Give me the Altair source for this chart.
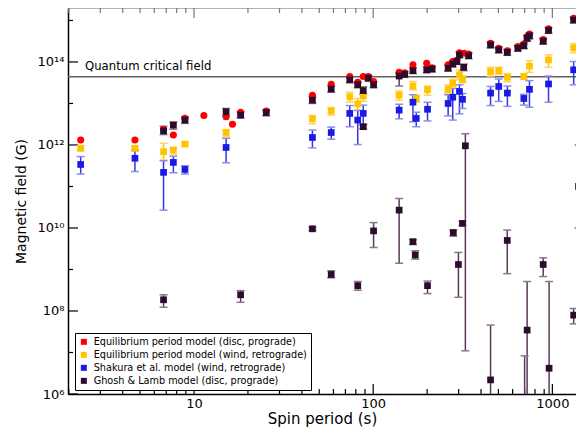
import altair as alt
import pandas as pd

F = "DejaVu Sans"

# ---- data (periods in s, fields as log10 B[G]) ----
red_period = [2.33, 4.68, 6.76, 7.67, 8.9, 11.35, 15.1, 16.4, 18.2, 25.3, 45.8, 58.3, 74, 82, 88, 94, 100.5,
              139.6, 150, 166.7, 199, 213, 262, 278, 293, 303, 322, 341, 452, 502, 561, 642, 693, 723, 745,
              889, 952, 1315]
red_logB = [12.12, 12.12, 12.38, 12.24, 12.64, 12.71, 12.68, 12.50, 12.79, 12.82, 13.20, 13.46, 13.65, 13.51,
            13.65, 13.65, 13.53, 13.75, 13.74, 13.93, 13.97, 13.86, 13.93, 14.01, 14.04, 14.22, 14.21, 14.19,
            14.45, 14.33, 14.27, 14.37, 14.43, 14.61, 14.67, 14.54, 14.80, 15.05]

yellow_period = [2.33, 4.68, 6.76, 7.67, 8.9, 15.1, 45.8, 58.3, 74, 82, 88, 139.6, 166.7, 174, 201, 262, 278,
                 303, 315, 452, 502, 561, 693, 745, 952, 1315]
yellow_logB = [11.92, 11.92, 11.84, 11.88, 12.02, 12.30, 12.63, 12.82, 13.16, 12.99, 13.18, 13.20, 13.42, 13.12,
               13.33, 13.34, 13.49, 13.69, 13.58, 13.77, 13.79, 13.63, 13.65, 13.90, 14.05, 14.34]
yellow_lo = [11.86, 11.85, 11.64, 11.78, 11.98, 12.20, 12.51, 12.72, 13.03, 12.84, 13.05, 13.08, 13.33, 13.03,
             13.20, 13.25, 13.40, 13.57, 13.50, 13.66, 13.70, 13.52, 13.58, 13.75, 13.87, 14.22]
yellow_hi = [11.98, 11.98, 12.04, 11.93, 12.06, 12.37, 12.71, 12.90, 13.27, 13.12, 13.27, 13.30, 13.53, 13.20,
             13.42, 13.45, 13.58, 13.81, 13.66, 13.87, 13.87, 13.72, 13.72, 14.03, 14.17, 14.44]

blue_period = yellow_period
blue_logB = [11.53, 11.68, 11.34, 11.58, 11.41, 11.94, 12.18, 12.30, 12.76, 12.60, 12.76, 12.84, 13.03, 12.64,
             12.86, 13.00, 13.15, 13.29, 13.10, 13.25, 13.41, 13.25, 13.12, 13.34, 13.47, 13.81]
blue_lo = [11.30, 11.36, 10.43, 11.33, 11.30, 11.57, 11.93, 12.14, 12.44, 12.01, 12.48, 12.63, 12.56, 12.44,
           12.58, 12.70, 12.60, 12.75, 12.88, 12.95, 13.05, 12.93, 12.96, 12.91, 13.03, 13.45]
blue_hi = [11.72, 11.88, 11.62, 11.73, 11.50, 12.16, 12.36, 12.43, 12.95, 12.83, 12.96, 12.98, 13.21, 12.79,
           13.03, 13.21, 13.36, 13.45, 13.24, 13.41, 13.59, 13.42, 13.22, 13.55, 13.66, 14.01]

gl_period = [6.76, 6.76, 7.67, 8.9, 15.1, 18.2, 18.2, 25.3, 45.8, 45.8, 58.3, 58.3, 74, 82, 82, 88, 88, 94,
             100.5, 100.5, 139.6, 139.6, 150, 166.7, 166.7, 171.7, 199, 201, 213, 262, 278, 280, 293, 299, 303,
             315, 320, 327, 341, 452, 452, 502, 560, 560, 642, 693, 700, 723, 723, 745, 889, 889, 952, 959,
             1315, 1315, 1400]
gl_logB = [12.34, 8.27, 12.48, 12.60, 12.80, 12.72, 8.39, 12.78, 13.08, 9.98, 13.35, 8.88, 13.57, 13.45, 8.61,
           13.31, 12.44, 13.61, 13.45, 9.93, 13.66, 10.43, 13.70, 13.79, 9.67, 9.35, 13.81, 8.61, 13.83, 13.85,
           13.95, 9.89, 14.01, 9.12, 14.17, 10.11, 13.87, 11.98, 14.15, 14.41, 6.34, 14.29, 14.23, 9.70, 14.33,
           14.39, 5.5, 14.57, 7.54, 14.63, 14.50, 9.12, 14.76, 6.62, 15.01, 7.90, 11.0]
gl_lo = [12.25, 8.09, 12.38, 12.52, 12.70, 12.65, 8.21, 12.70, 13.00, 9.94, 13.27, 8.80, 13.50, 13.38, 8.50,
         13.22, 12.39, 13.54, 13.38, 9.53, 13.42, 9.15, 13.63, 13.72, 9.60, 9.25, 13.74, 8.42, 13.76, 13.78,
         13.88, 9.80, 13.94, 8.33, 14.10, 10.06, 13.79, 7.04, 14.08, 14.34, 3.0, 14.22, 14.16, 8.90, 14.26,
         14.32, 3.0, 14.50, 3.0, 14.56, 14.43, 8.83, 14.69, 3.0, 14.94, 7.69, 10.0]
gl_hi = [12.45, 8.39, 12.55, 12.68, 12.88, 12.80, 8.49, 12.85, 13.16, 10.02, 13.42, 8.97, 13.64, 13.52, 8.71,
         13.40, 12.50, 13.68, 13.52, 10.13, 13.74, 10.71, 13.77, 13.86, 9.72, 9.45, 13.88, 8.72, 13.90, 13.92,
         14.02, 9.95, 14.08, 9.41, 14.24, 10.16, 13.95, 12.27, 14.22, 14.48, 7.66, 14.36, 14.30, 9.95, 14.40,
         14.46, 6.92, 14.64, 8.71, 14.70, 14.57, 9.28, 14.83, 8.71, 15.08, 8.06, 12.0]

quantum_logB = [13.643]  # 4.4e13 G
models = ["Equilibrium period model (disc, prograde)", "Equilibrium period model (wind, retrograde)",
          "Shakura et al. model (wind, retrograde)", "Ghosh & Lamb model (disc, prograde)"]
colors = ["#ff0000", "#ffc400", "#1a1ae6", "#2d0b2d"]

y_major = [6, 8, 10, 12, 14]
y_minor = [7, 9, 11, 13, 15]
x_major = [10, 100, 1000]
x_minor = [2, 3, 4, 5, 6, 7, 8, 9, 20, 30, 40, 50, 60, 70, 80, 90, 200, 300, 400, 500, 600, 700, 800, 900]

# ---- chart ----
W, H = 508, 386
xscale = alt.Scale(type="log", domain=[1.98, 1355], nice=False)
yscale = alt.Scale(type="linear", domain=[6, 15.3], nice=False, zero=False)
xaxis = alt.Axis(title="Spin period (s)", values=x_major, format="d", ticks=False, grid=False,
                 domainColor="black", domainWidth=1.5, labelFont=F, labelFontSize=13, labelColor="black",
                 labelPadding=3, titleFont=F, titleFontSize=15, titleFontWeight="normal", titleColor="black",
                 titlePadding=1, labelFlush=False)
yexpr = ("datum.value == 6 ? '10⁶' : datum.value == 8 ? '10⁸' : datum.value == 10 ? '10¹⁰' : "
         "datum.value == 12 ? '10¹²' : '10¹⁴'")
yaxis = alt.Axis(title="Magnetic field (G)", values=y_major, labelExpr=yexpr, ticks=False, grid=False,
                 domainColor="black", domainWidth=1.5, labelFont=F, labelFontSize=13, labelColor="black",
                 labelPadding=4, titleFont=F, titleFontSize=14, titleFontWeight="normal", titleColor="black",
                 titlePadding=9, labelFlush=False)


def X(f):
    return alt.X(f, type="quantitative", scale=xscale, axis=xaxis)


def Y(f):
    return alt.Y(f, type="quantitative", scale=yscale, axis=yaxis)


cscale = alt.Scale(domain=models, range=colors)
legend = alt.Legend(title=None, orient="none", legendX=7, legendY=325, symbolType="square", symbolSize=36,
                    symbolStrokeWidth=0, labelFont=F, labelFontSize=9.7, labelColor="black", labelLimit=400,
                    strokeColor="black", fillColor="white", padding=4, rowPadding=2, labelOffset=5)
C = alt.Color("model:N", scale=cscale, legend=legend)

red_df = pd.DataFrame({"P": red_period, "B": red_logB, "model": models[0]})
yel_df = pd.DataFrame({"P": yellow_period, "B": yellow_logB, "lo": yellow_lo, "hi": yellow_hi, "model": models[1]})
blu_df = pd.DataFrame({"P": blue_period, "B": blue_logB, "lo": blue_lo, "hi": blue_hi, "model": models[2]})
gl_df = pd.DataFrame({"P": gl_period, "B": gl_logB, "lo": gl_lo, "hi": gl_hi, "model": models[3]})

layers = []

# frame top line
layers.append(alt.Chart(pd.DataFrame({"a": [0]})).mark_rule(color="#888888", strokeWidth=1.2).encode(
    x=alt.value(0), x2=alt.value(W), y=alt.value(0)))

# inward ticks
ymaj = pd.DataFrame({"v": y_major})
ymin = pd.DataFrame({"v": y_minor})
xmaj = pd.DataFrame({"v": x_major})
xmin = pd.DataFrame({"v": x_minor})
layers.append(alt.Chart(ymaj).mark_rule(color="black", strokeWidth=1.2).encode(
    y=Y("v"), x=alt.value(0), x2=alt.value(10)))
layers.append(alt.Chart(ymin).mark_rule(color="black", strokeWidth=1.2).encode(
    y=Y("v"), x=alt.value(0), x2=alt.value(5)))
layers.append(alt.Chart(xmaj).mark_rule(color="black", strokeWidth=1.2).encode(
    x=X("v"), y=alt.value(H), y2=alt.value(H - 10)))
layers.append(alt.Chart(xmin).mark_rule(color="black", strokeWidth=1.2).encode(
    x=X("v"), y=alt.value(H), y2=alt.value(H - 5)))
layers.append(alt.Chart(xmaj).mark_rule(color="#777777", strokeWidth=1.2).encode(
    x=X("v"), y=alt.value(0), y2=alt.value(10)))
layers.append(alt.Chart(xmin).mark_rule(color="#777777", strokeWidth=1.2).encode(
    x=X("v"), y=alt.value(0), y2=alt.value(5)))

# quantum critical field
qdf = pd.DataFrame({"B": quantum_logB, "label": ["Quantum critical field"]})
layers.append(alt.Chart(qdf).mark_rule(color="#606060", strokeWidth=1.5).encode(
    y=Y("B"), x=alt.value(0), x2=alt.value(W)))
layers.append(alt.Chart(qdf).mark_text(align="left", baseline="middle", dy=-11, font=F, fontSize=11.7,
                                       color="black").encode(y=Y("B"), x=alt.value(17), text="label:N"))


def errbars(df, line, cap):
    base = alt.Chart(df)
    return [
        base.mark_rule(color=line, strokeWidth=1.5, clip=True).encode(x=X("P"), y=Y("lo"), y2=alt.Y2("hi")),
        base.mark_tick(orient="horizontal", color=cap, size=8, thickness=1.5, opacity=1, clip=True).encode(
            x=X("P"), y=Y("lo")),
        base.mark_tick(orient="horizontal", color=cap, size=8, thickness=1.5, opacity=1, clip=True).encode(
            x=X("P"), y=Y("hi")),
    ]


layers += errbars(yel_df, "#ffc400", "#ffd45e")
layers += errbars(blu_df, "#3636e0", "#8c8cec")
layers += errbars(gl_df, "#5a3a5a", "#8e748e")

layers.append(alt.Chart(red_df).mark_point(shape="circle", filled=True, size=50, opacity=1, clip=True).encode(
    x=X("P"), y=Y("B"), color=C))
layers.append(alt.Chart(yel_df).mark_point(shape="square", filled=True, size=45, opacity=1, clip=True).encode(
    x=X("P"), y=Y("B"), color=C))
layers.append(alt.Chart(blu_df).mark_point(shape="square", filled=True, size=45, opacity=1, clip=True).encode(
    x=X("P"), y=Y("B"), color=C))
layers.append(alt.Chart(gl_df).mark_point(shape="square", filled=True, size=45, opacity=1, clip=True).encode(
    x=X("P"), y=Y("B"), color=C))

chart = alt.layer(*layers).properties(
    width=W, height=H,
    autosize=alt.AutoSizeParams(type="none"),
    padding={"left": 60, "top": 0, "right": 0, "bottom": 36},
).configure_view(strokeWidth=0).configure(background="white")

chart.save("out.html", embed_options={"renderer": "svg", "actions": False})
